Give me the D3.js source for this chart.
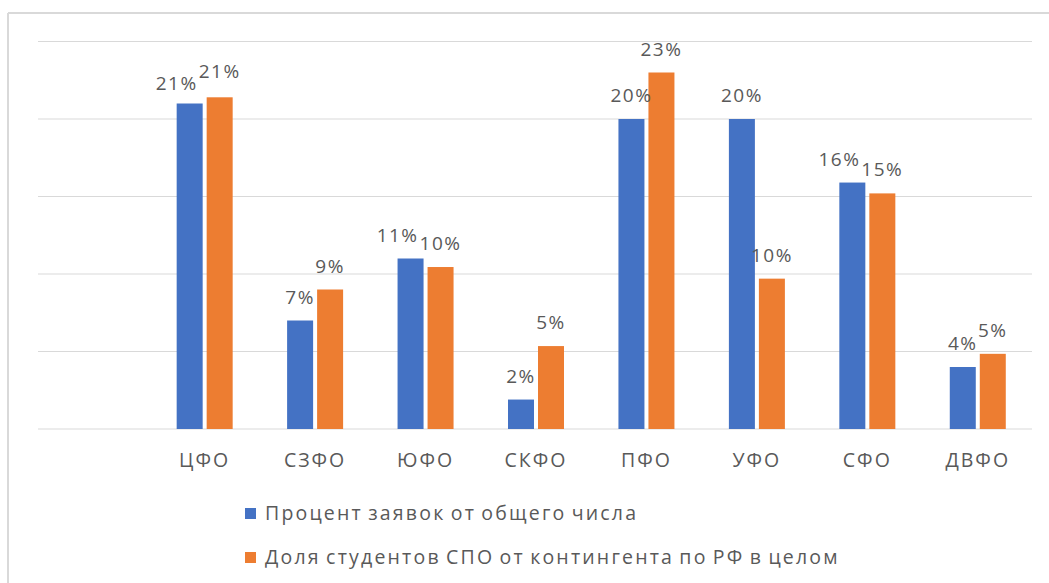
<!DOCTYPE html>
<html>
<head>
<meta charset="utf-8">
<script src="https://cdn.jsdelivr.net/npm/d3@7"></script>
<style>
  body { margin: 0; background: #fff; }
  svg text { font-family: "Open Sans", "Noto Sans", sans-serif; }
</style>
</head>
<body>
<svg id="chart" width="1049" height="583"></svg>
<script>
// данные с диаграммы (первая категория пустая, как в исходнике)
const categories = ["", "ЦФО", "СЗФО", "ЮФО", "СКФО", "ПФО", "УФО", "СФО", "ДВФО"];
const requestsShare = [null, 21.0, 7.0, 11.0, 1.9, 20.0, 20.0, 15.9, 4.0];
const studentsShare = [null, 21.4, 9.0, 10.45, 5.35, 23.0, 9.7, 15.2, 4.85];
const seriesNames = ["Процент заявок от общего числа", "Доля студентов СПО от контингента по РФ в целом"];
const yTicks = [0, 5, 10, 15, 20, 25];

const colors = ['#4472c4', '#ed7d31'];
const W = 1049, H = 583;
const plotL = 38, plotR = 1032, plotT = 41.5, plotB = 429;

const svg = d3.select('#chart');

// рамка области диаграммы (видны только верх и левый край)
svg.append('line').attr('x1', 8).attr('x2', W).attr('y1', 13).attr('y2', 13)
    .attr('stroke', '#d9d9d9').attr('stroke-width', 2);
svg.append('line').attr('x1', 8).attr('x2', 8).attr('y1', 13).attr('y2', H)
    .attr('stroke', '#d9d9d9').attr('stroke-width', 2);

const x = d3.scaleBand().domain(categories).range([plotL, plotR]).paddingInner(0).paddingOuter(0);
const y = d3.scaleLinear().domain([0, 25]).range([plotB, plotT]);

// сетка
svg.append('g').selectAll('line')
    .data(yTicks)
    .enter()
    .append('line')
    .attr('x1', plotL).attr('x2', plotR)
    .attr('y1', d => y(d)).attr('y2', d => y(d))
    .attr('stroke', '#d9d9d9').attr('stroke-width', 1.2);

const barW = 26, gap = 4;

const rows = [];
categories.forEach((c, i) => {
    [requestsShare[i], studentsShare[i]].forEach((v, s) => {
        if (v == null) return;
        rows.push({ cat: c, s: s, value: v });
    });
});

const groupX = c => x(c) + x.bandwidth() / 2 - (barW * 2 + gap) / 2 + 1;
const barX = d => groupX(d.cat) + (d.s === 0 ? 0 : barW + gap);

svg.append('g').selectAll('rect')
    .data(rows)
    .enter()
    .append('rect')
    .attr('x', barX)
    .attr('y', d => y(d.value))
    .attr('width', barW)
    .attr('height', d => y(0) - y(d.value))
    .attr('fill', d => colors[d.s]);

// подписи значений
const fmt = v => Math.round(v) + '%';
const labels = svg.append('g').selectAll('text')
    .data(rows)
    .enter()
    .append('text')
    .attr('x', d => barX(d) + barW / 2)
    .attr('y', d => y(d.value) - 17)
    .attr('text-anchor', 'middle')
    .attr('font-size', 19)
    .attr('letter-spacing', 1.5)
    .attr('fill', '#595959')
    .text(d => fmt(d.value));

// разводим пересекающиеся подписи внутри группы
labels.each(function(d) { d.w = this.getComputedTextLength(); d.lx = barX(d) + barW / 2; d.ly = y(d.value) - 17; });
categories.forEach(c => {
    const pair = rows.filter(r => r.cat === c);
    if (pair.length < 2) return;
    const [a, b] = pair;
    const overlap = (a.w + b.w) / 2 - (b.lx - a.lx);
    if (overlap > 0 && Math.abs(a.ly - b.ly) < 15) {
        a.lx -= overlap + 1;
        if (b.ly <= a.ly) { a.ly += 3; b.ly -= 2; }
    }
});
labels.attr('x', d => d.lx).attr('y', d => d.ly);

// подписи категорий
svg.append('g').selectAll('text')
    .data(categories.filter(c => c !== ''))
    .enter()
    .append('text')
    .attr('x', d => x(d) + x.bandwidth() / 2 + 1)
    .attr('y', 467)
    .attr('text-anchor', 'middle')
    .attr('font-size', 19.5)
    .attr('letter-spacing', 2)
    .attr('fill', '#595959')
    .text(d => d);

// легенда
const legend = svg.append('g');
seriesNames.forEach((name, i) => {
    const ly = 520 + i * 44;
    legend.append('rect')
        .attr('x', 245).attr('y', ly - 12)
        .attr('width', 11).attr('height', 11)
        .attr('fill', colors[i]);
    legend.append('text')
        .attr('x', 265).attr('y', ly)
        .attr('font-size', 19.5)
        .attr('letter-spacing', 2.2)
        .attr('word-spacing', -2)
        .attr('fill', '#595959')
        .text(name);
});
</script>
</body>
</html>
